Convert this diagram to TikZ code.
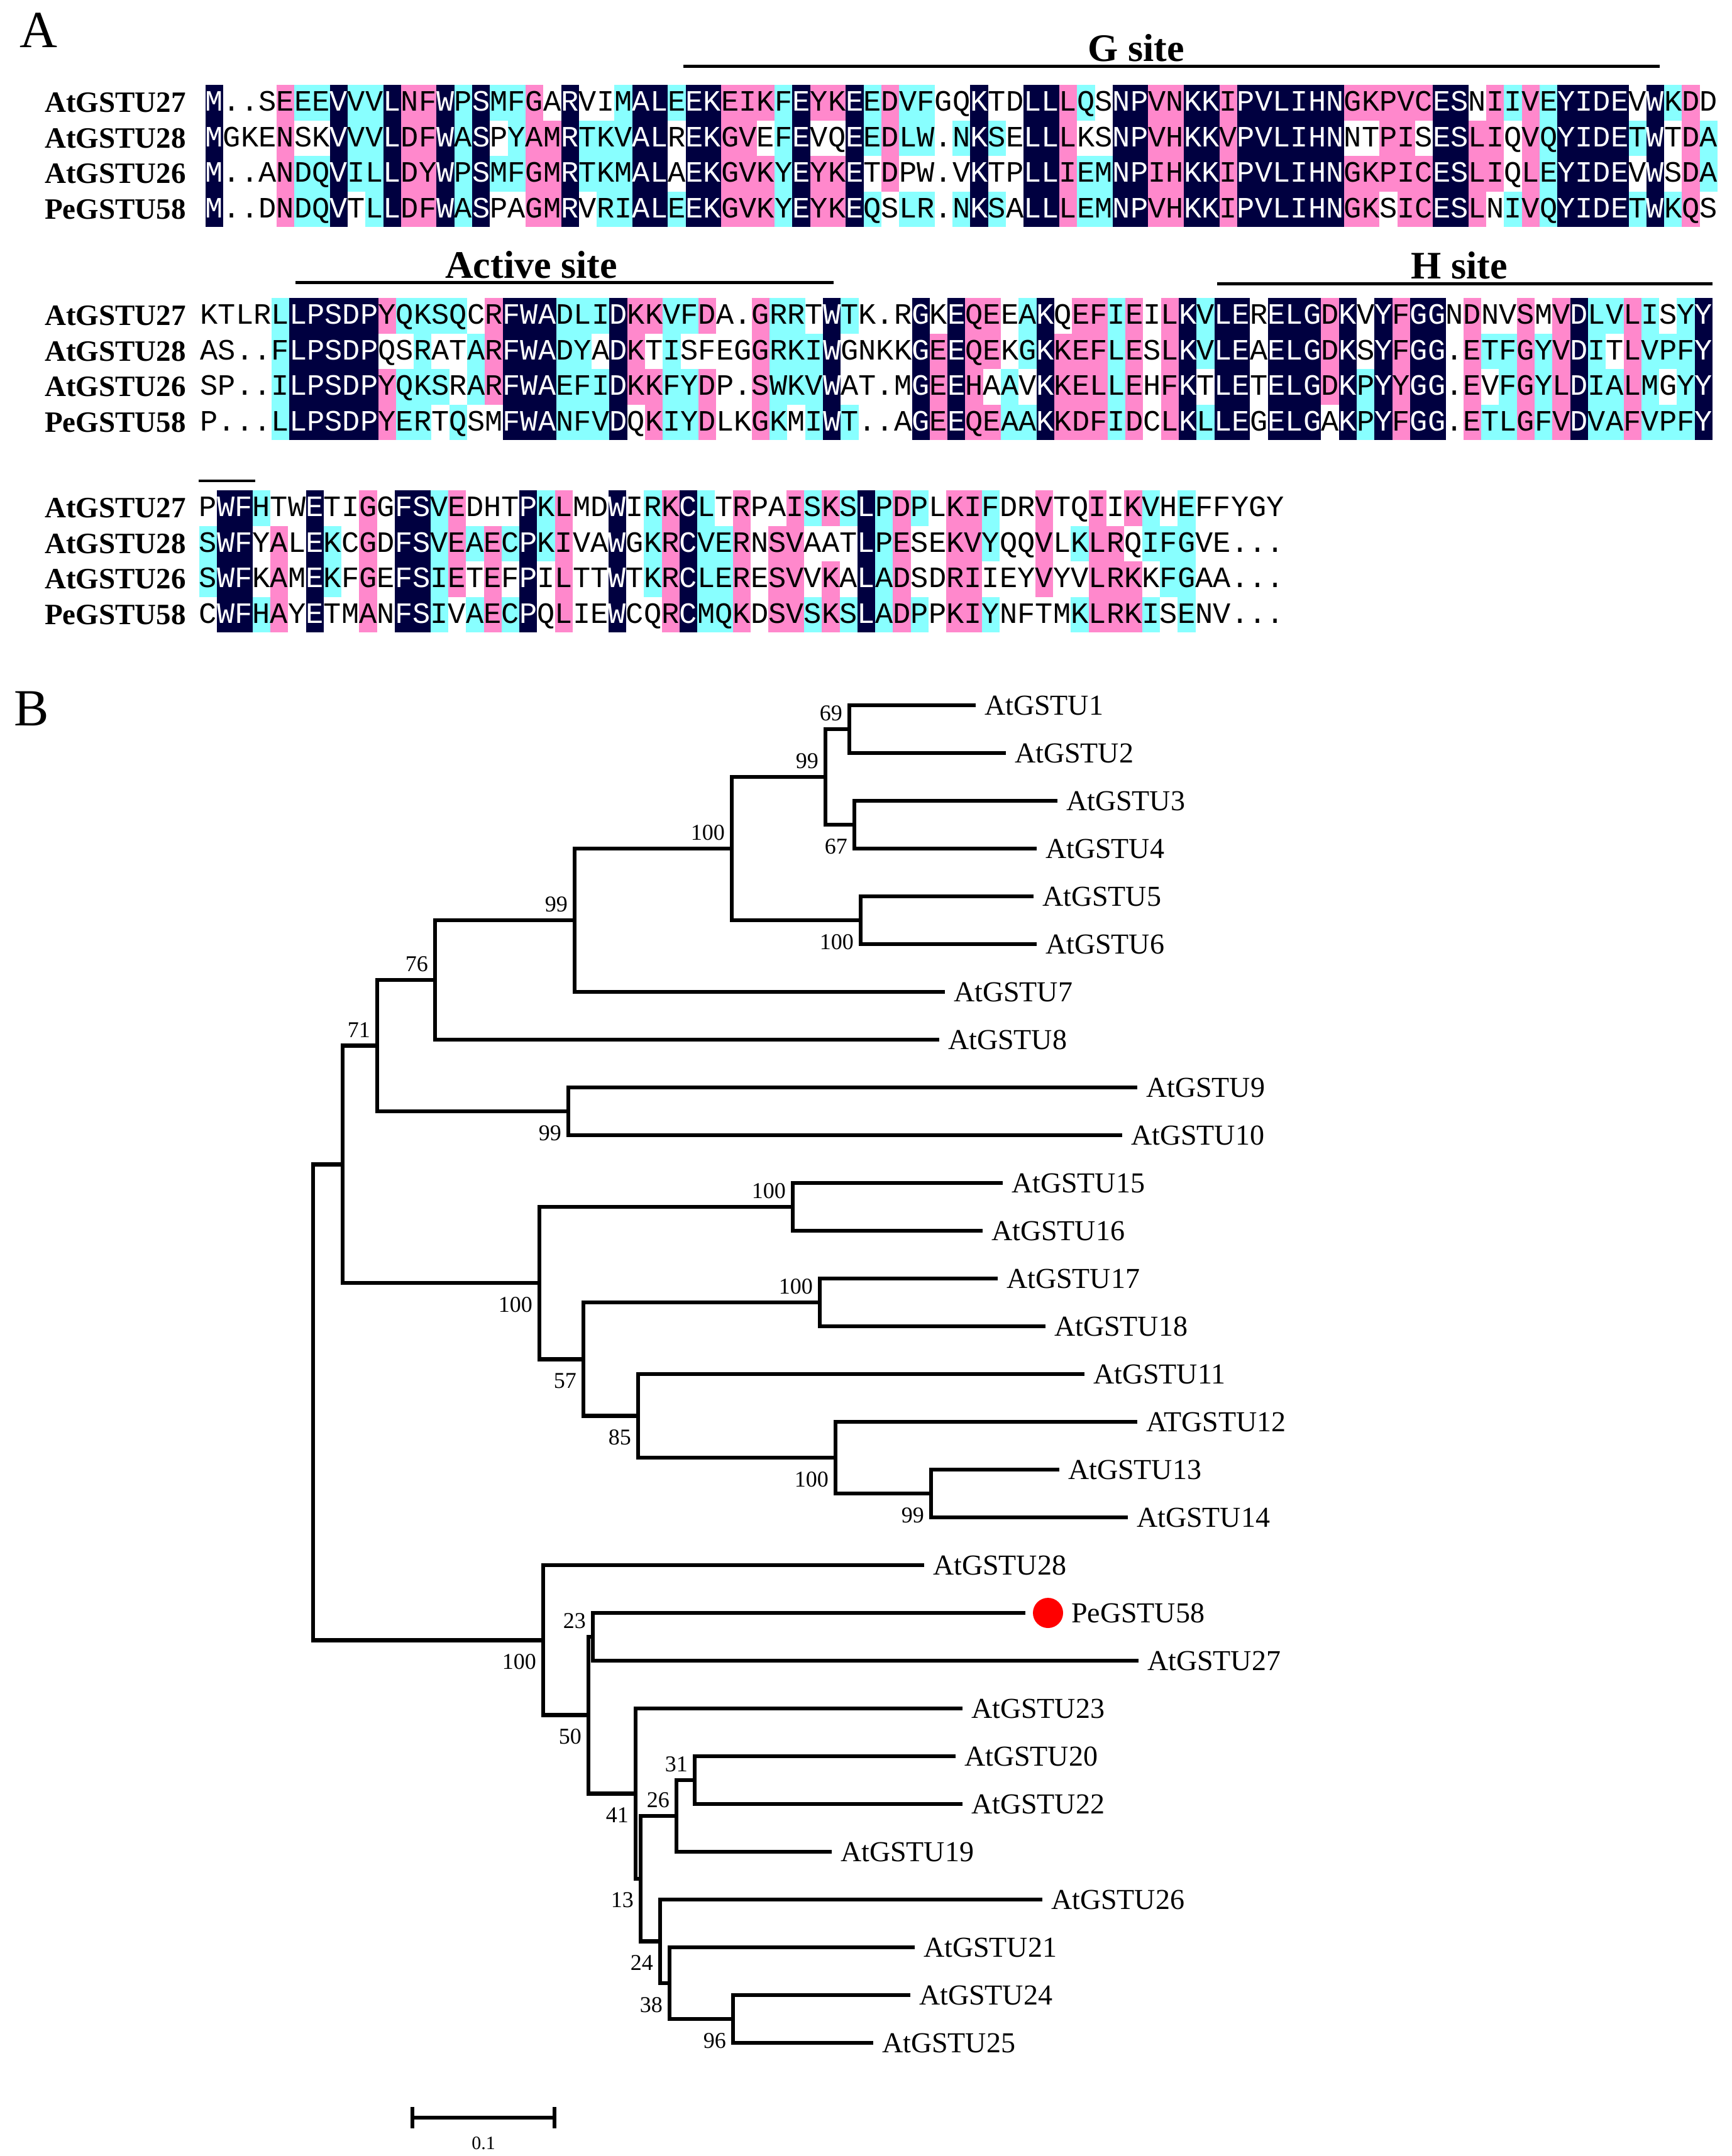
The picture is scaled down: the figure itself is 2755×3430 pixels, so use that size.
\documentclass[tikz,border=0pt]{standalone}
\usepackage{fontspec}
\setmainfont{Liberation Serif}
\newfontfamily\seqfont{Liberation Mono}
\usetikzlibrary{positioning}

\definecolor{alnavy}{RGB}{0,0,64}
\definecolor{alpink}{RGB}{255,136,204}
\definecolor{alcyan}{RGB}{136,255,255}

\newcommand\resfont{\seqfont\fontsize{47pt}{47pt}\selectfont}
\newcommand\namefont{\bfseries\fontsize{47pt}{47pt}\selectfont}
\newcommand\sitefont{\bfseries\fontsize{62pt}{62pt}\selectfont}
\newcommand\panelfont{\fontsize{83pt}{83pt}\selectfont}
\newcommand\leaffont{\fontsize{46pt}{46pt}\selectfont}
\newcommand\bootfont{\fontsize{36pt}{36pt}\selectfont}

\tikzstyle{res}=[minimum width=28.3pt,minimum height=56.5pt,inner sep=0pt,outer sep=0pt,text height=27pt,text depth=0pt,font=\resfont]
\tikzstyle{resn}=[fill=alnavy,text=white]
\tikzstyle{resp}=[fill=alpink]
\tikzstyle{resc}=[fill=alcyan]
\tikzstyle{resw}=[]
\tikzstyle{seqname}=[anchor=east,inner sep=0pt,text height=31pt,text depth=0pt,font=\namefont]
\tikzstyle{site}=[anchor=base,inner sep=0pt,font=\sitefont]
\tikzstyle{sitebar}=[line width=5pt]
\tikzstyle{panel}=[inner sep=0pt,font=\panelfont]
\tikzstyle{leaf}=[anchor=west,inner xsep=14pt,inner ysep=0pt,outer sep=0pt,font=\leaffont]
\tikzstyle{boot}=[inner sep=2pt,font=\bootfont]
\tikzstyle{branch}=[line width=6.5pt]
\tikzstyle{mark58}=[circle,fill=red,minimum size=48pt,inner sep=0pt,outer sep=12pt]

% one aligned row: x of first column, y of row centre, name prefix, residues, colour codes
\newcount\rescol
\def\resrow#1#2#3#4#5{%
  \def\resx{#1}\def\resy{#2}\def\respre{#3}\rescol=0
  \resloop#4\relax#5\relax}
\def\resloop#1#2\relax#3#4\relax{%
  \node[res,res#3] (\respre\the\rescol) at (\resx+28.3*\the\rescol+14.15,\resy) {#1};%
  \advance\rescol by 1
  \ifx\relax#2\relax\let\resnext\relax\else\def\resnext{\resloop#2\relax#4\relax}\fi
  \resnext}

\begin{document}
\begin{tikzpicture}[x=1pt,y=-1pt]
\useasboundingbox[fill=white] (0,0) rectangle (2755,3430);

% panel A
\node[panel] (pa) at (61,48) {A};

\coordinate (gs1) at (1087,105); \coordinate (gs2) at (2640,105);
\draw[sitebar] (gs1) -- (gs2);
\node[site] (gsite) at (1807,97) {G site};

\node[seqname] (na1) at (296,163.25) {AtGSTU27};
\node[seqname] (na2) at (296,219.75) {AtGSTU28};
\node[seqname] (na3) at (296,276.25) {AtGSTU26};
\node[seqname] (na4) at (296,332.75) {PeGSTU58};
\resrow{326.5}{163.25}{a1-}{M..SEEEVVVLNFWPSMFGARVIMALEEKEIKFEYKEEDVFGQKTDLLLQSNPVNKKIPVLIHNGKPVCESNIIVEYIDEVWKDD}{nwwwpccnccnppncnccpwnwwcnncnnpppcnppncpccwwnwwnnpcwnnppnnpnnnnnnpppppnnwpcpcnnnnwncpw}
\resrow{326.5}{219.75}{a2-}{MGKENSKVVVLDFWASPYAMRTKVALREKGVEFEVQEEDLW.NKSELLLKSNPVHKKVPVLIHNNTPISESLIQVQYIDETWTDA}{nwwwpwwnccnppncnwcppncccnnwnnppwcnwwncpccwcncwnnpwwnnppnnpnnnnnnwwppwnnppwpcnnnncnwpc}
\resrow{326.5}{276.25}{a3-}{M..ANDQVILLDYWPSMFGMRTKMALAEKGVKYEYKETDPW.VKTPLLIEMNPIHKKIPVLIHNGKPICESLIQLEYIDEVWSDA}{nwwwpccnccnppncnccppncccnnwnnpppcnppnwpwwwwnwwnnpccnnppnnpnnnnnnpppppnnppwpcnnnnwnwpc}
\resrow{326.5}{332.75}{a4-}{M..DNDQVTLLDFWASPAGMRVRIALEEKGVKYEYKEQSLR.NKSALLLEMNPVHKKIPVLIHNGKSICESLNIVQYIDETWKQS}{nwwwpccnwcnppncnwwppnwccnncnnpppcnppncwccwcncwnnpccnnppnnpnnnnnnppwppnnpwcpcnnnncncpw}

\coordinate (as1) at (470,449); \coordinate (as2) at (1326,449);
\draw[sitebar] (as1) -- (as2);
\node[site] (asite) at (845,442) {Active site};
\coordinate (hs1) at (1936,451); \coordinate (hs2) at (2724,451);
\draw[sitebar] (hs1) -- (hs2);
\node[site] (hsite) at (2321,443) {H site};

\node[seqname] (nb1) at (296,502.25) {AtGSTU27};
\node[seqname] (nb2) at (296,558.75) {AtGSTU28};
\node[seqname] (nb3) at (296,615.25) {AtGSTU26};
\node[seqname] (nb4) at (296,671.75) {PeGSTU58};
\resrow{318.5}{502.25}{b1-}{KTLRLLPSDPYQKSQCRFWADLIDKKVFDA.GRRTWTK.RGKEQEEAKQEFIEILKVLERELGDKVYFGGNDNVSMVDLVLISYY}{wwwwcnnnnnpccccwpnnncccnppccpwwpccwncwwwnwnppwcnwppcpwpncnnwnnnpnwnpnnwpwwpwpnccpcwcn}
\resrow{318.5}{558.75}{b2-}{AS..FLPSDPQSRATARFWADYADKTISFEGGRKIWGNKKGEEQEKGKKEFLESLKVLEAELGDKSYFGG.ETFGYVDITLVPFY}{wwwwcnnnnnwwcwwcpnnnccwnpwcwwwwpcccnwwwwnpnppwcnpppcpwpncnnwnnnpnwnpnnwpccpcpncwpcccn}
\resrow{318.5}{615.25}{b3-}{SP..ILPSDPYQKSRARFWAEFIDKKFYDP.SWKVWAT.MGEEHAAVKKELLEHFKTLETELGDKPYYGG.EVFGYLDIALMGYY}{wwwwcnnnnnpcccwcpnnncccnppccpwwpcccnwwwwnpnpwcwnpppcpwpnwnnwnnnpncnpnnwpwcpcpnccpcwcn}
\resrow{318.5}{671.75}{b4-}{P...LLPSDPYERTQSMFWANFVDQKIYDLKGKMIWT..AGEEQEAAKKDFIDCLKLLEGELGAKPYFGG.ETLGFVDVAFVPFY}{wwwwcnnnnnpccwcwwnnncccnwpccpwwpcwcncwwwnpnppccnpppcpwpncnnwnnnwncnpnnwpccpcpnccpcccn}

\coordinate (ws1) at (316,765); \coordinate (ws2) at (406,765);
\draw[line width=4pt] (ws1) -- (ws2);

\node[seqname] (nc1) at (296,808.25) {AtGSTU27};
\node[seqname] (nc2) at (296,864.75) {AtGSTU28};
\node[seqname] (nc3) at (296,921.25) {AtGSTU26};
\node[seqname] (nc4) at (296,977.75) {PeGSTU58};
\resrow{316.7}{808.25}{c1-}{PWFHTWETIGGFSVEDHTPKLMDWIRKCLTRPAISKSLPDPLKIFDRVTQIIKVHEFFYGY}{wnncwwnwwpwnncpwwwncpwwnwcpncwpwwpcpcncpcwppcwwpwwpwpcwcwwwww}
\resrow{316.7}{864.75}{c2-}{SWFYALEKCGDFSVEAECPKIVAWGKRCVERNSVAATLPESEKVYQQVLKLRQIFGVE...}{cnnwpwncwpwnncpcpcncpwwnwcpnccpwppwwwncpwwppcwwpwcppwcccwwwww}
\resrow{316.7}{921.25}{c3-}{SWFKAMEKFGEFSIETEFPILTTWTKRCLERESVVKALADSDRIIEYVYVLRKKFGAA...}{cnnwpwncwpwnncpwpwnwpwwnwcpnccpwppwpwncpwwppwwwpwwpppwccwwwww}
\resrow{316.7}{977.75}{c4-}{CWFHAYETMANFSIVAECPQLIEWCQRCMQKDSVSKSLADPPKIYNFTMKLRKISENV...}{wnncpwnwwpwnncwcpcnwpwwnwwpnccpwppcpcncpcwppcwwwwcpppcwcwwwww}

% panel B
\node[panel] (pb) at (50,1127) {B};

\node[leaf] (u1) at (1552,1122) {AtGSTU1};
\node[leaf] (u2) at (1600,1198) {AtGSTU2};
\node[leaf] (u3) at (1682,1274) {AtGSTU3};
\node[leaf] (u4) at (1649,1350) {AtGSTU4};
\node[leaf] (u5) at (1644,1426) {AtGSTU5};
\node[leaf] (u6) at (1649,1502) {AtGSTU6};
\node[leaf] (u7) at (1503,1578) {AtGSTU7};
\node[leaf] (u8) at (1494,1654) {AtGSTU8};
\node[leaf] (u9) at (1809,1730) {AtGSTU9};
\node[leaf] (u10) at (1785,1806) {AtGSTU10};
\node[leaf] (u15) at (1595,1882) {AtGSTU15};
\node[leaf] (u16) at (1563,1958) {AtGSTU16};
\node[leaf] (u17) at (1587,2034) {AtGSTU17};
\node[leaf] (u18) at (1663,2110) {AtGSTU18};
\node[leaf] (u11) at (1725,2186) {AtGSTU11};
\node[leaf] (u12) at (1809,2262) {ATGSTU12};
\node[leaf] (u13) at (1685,2338) {AtGSTU13};
\node[leaf] (u14) at (1794,2414) {AtGSTU14};
\node[leaf] (u28) at (1470,2490) {AtGSTU28};
\node[mark58] (dot58) at (1667,2566) {};
\node[leaf] (pe58) at (1690,2566) {PeGSTU58};
\node[leaf] (u27) at (1811,2642) {AtGSTU27};
\node[leaf] (u23) at (1531,2718) {AtGSTU23};
\node[leaf] (u20) at (1520,2794) {AtGSTU20};
\node[leaf] (u22) at (1531,2870) {AtGSTU22};
\node[leaf] (u19) at (1323,2946) {AtGSTU19};
\node[leaf] (u26) at (1658,3022) {AtGSTU26};
\node[leaf] (u21) at (1455,3098) {AtGSTU21};
\node[leaf] (u24) at (1448,3174) {AtGSTU24};
\node[leaf] (u25) at (1389,3250) {AtGSTU25};

% inner nodes of the tree
\coordinate (n69) at (1351,1160);
\coordinate (n67) at (1359,1312);
\coordinate (n99a) at (1313,1236);
\coordinate (n56) at (1369,1464);
\coordinate (n100a) at (1164,1350);
\coordinate (n99b) at (914,1464);
\coordinate (n76) at (692,1559);
\coordinate (n99c) at (904,1768);
\coordinate (n71) at (600,1663.5);
\coordinate (n100b) at (1261,1920);
\coordinate (n100c) at (1304,2072);
\coordinate (n100d) at (1481,2376);
\coordinate (n100e) at (1329,2319);
\coordinate (n85) at (1015,2252.5);
\coordinate (n57) at (928,2162.3);
\coordinate (n100f) at (858,2041.1);
\coordinate (nup) at (545,1852.3);
\coordinate (root) at (498,2230.8);
\coordinate (nbot) at (864,2609.3);
\coordinate (n50) at (936,2728.7);
\coordinate (n23) at (943,2604);
\coordinate (n41) at (1011,2853.4);
\coordinate (n13) at (1019,2988.8);
\coordinate (n26) at (1076,2889);
\coordinate (n31) at (1105,2832);
\coordinate (n24) at (1050,3088.5);
\coordinate (n38) at (1065,3155);
\coordinate (n96) at (1166,3212);

\draw[branch] (u1) -| (n69) |- (u2);
\draw[branch] (u3) -| (n67) |- (u4);
\draw[branch] (n69) -| (n99a) |- (n67);
\draw[branch] (u5) -| (n56) |- (u6);
\draw[branch] (n99a) -| (n100a) |- (n56);
\draw[branch] (n100a) -| (n99b) |- (u7);
\draw[branch] (n99b) -| (n76) |- (u8);
\draw[branch] (u9) -| (n99c) |- (u10);
\draw[branch] (n76) -| (n71) |- (n99c);
\draw[branch] (u15) -| (n100b) |- (u16);
\draw[branch] (u17) -| (n100c) |- (u18);
\draw[branch] (u13) -| (n100d) |- (u14);
\draw[branch] (u12) -| (n100e) |- (n100d);
\draw[branch] (u11) -| (n85) |- (n100e);
\draw[branch] (n100c) -| (n57) |- (n85);
\draw[branch] (n100b) -| (n100f) |- (n57);
\draw[branch] (n71) -| (nup) |- (n100f);
\draw[branch] (nup) -| (root) |- (nbot);
\draw[branch] (u28) -| (nbot) |- (n50);
\draw[branch] (n23) -| (n50) |- (n41);
\draw[branch] (dot58) -| (n23) |- (u27);
\draw[branch] (u23) -| (n41) |- (n13);
\draw[branch] (u20) -| (n31) |- (u22);
\draw[branch] (n31) -| (n26) |- (u19);
\draw[branch] (n26) -| (n13) |- (n24);
\draw[branch] (u26) -| (n24) |- (n38);
\draw[branch] (u21) -| (n38) |- (n96);
\draw[branch] (u24) -| (n96) |- (u25);

% bootstrap values
\node[boot,above left=11pt and 9pt of n69] (b69) {69};
\node[boot,above left=11pt and 9pt of n99a] (b99a) {99};
\node[boot,above left=11pt and 9pt of n100a] (b100a) {100};
\node[boot,above left=11pt and 9pt of n99b] (b99b) {99};
\node[boot,above left=11pt and 9pt of n76] (b76) {76};
\node[boot,above left=11pt and 9pt of n71] (b71) {71};
\node[boot,above left=11pt and 9pt of n100b] (b100b) {100};
\node[boot,above left=11pt and 9pt of n100c] (b100c) {100};
\node[boot,above left=11pt and 9pt of n23] (b23) {23};
\node[boot,above left=11pt and 9pt of n26] (b26) {26};
\node[boot,above left=11pt and 9pt of n31] (b31) {31};
\node[boot,below left=20pt and 9pt of n67] (b67) {67};
\node[boot,below left=20pt and 9pt of n56] (b56) {100};
\node[boot,below left=20pt and 9pt of n99c] (b99c) {99};
\node[boot,below left=20pt and 9pt of n100f] (b100f) {100};
\node[boot,below left=20pt and 9pt of n57] (b57) {57};
\node[boot,below left=20pt and 9pt of n85] (b85) {85};
\node[boot,below left=20pt and 9pt of n100e] (b100e) {100};
\node[boot,below left=20pt and 9pt of n100d] (b99d) {99};
\node[boot,below left=20pt and 9pt of nbot] (bbot) {100};
\node[boot,below left=20pt and 9pt of n50] (b50) {50};
\node[boot,below left=20pt and 9pt of n41] (b41) {41};
\node[boot,below left=20pt and 9pt of n13] (b13) {13};
\node[boot,below left=20pt and 9pt of n24] (b24) {24};
\node[boot,below left=20pt and 9pt of n38] (b38) {38};
\node[boot,below left=20pt and 9pt of n96] (b96) {96};

% scale bar
\coordinate (sb1) at (656,3369); \coordinate (sb2) at (882,3369);
\draw[branch] (sb1) -- (sb2);
\draw[branch] ([yshift=17pt]sb1) -- ([yshift=-17pt]sb1);
\draw[branch] ([yshift=17pt]sb2) -- ([yshift=-17pt]sb2);
\node[font=\fontsize{30pt}{30pt}\selectfont,inner sep=0pt] (sblab) at (769,3410) {0.1};
\end{tikzpicture}
\end{document}
